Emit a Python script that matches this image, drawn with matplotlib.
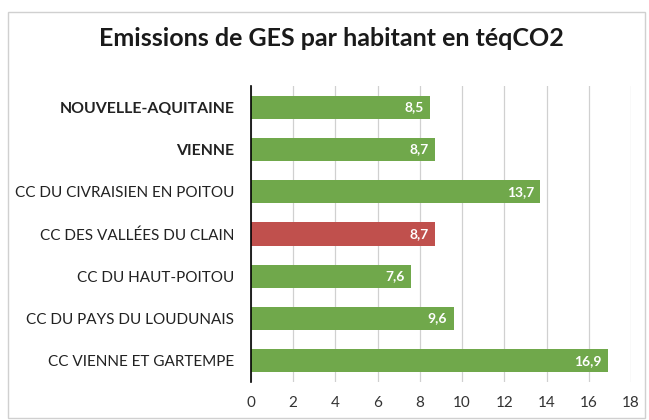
import matplotlib
matplotlib.use('Agg')
import matplotlib.pyplot as plt
from matplotlib.patches import Rectangle

# Emissions de GES par habitant (teqCO2)
territoires = ['NOUVELLE-AQUITAINE', 'VIENNE', 'CC DU CIVRAISIEN EN POITOU',
               'CC DES VALLÉES DU CLAIN', 'CC DU HAUT-POITOU',
               'CC DU PAYS DU LOUDUNAIS', 'CC VIENNE ET GARTEMPE']
emissions = [8.5, 8.7, 13.7, 8.7, 7.6, 9.6, 16.9]
labels = ['8,5', '8,7', '13,7', '8,7', '7,6', '9,6', '16,9']
xticks = [0, 2, 4, 6, 8, 10, 12, 14, 16, 18]

green = '#70a84b'
red = '#c0504d'
colors = [red if t == 'CC DES VALLÉES DU CLAIN' else green for t in territoires]

plt.rcParams['font.family'] = ['Lato', 'DejaVu Sans']

fig = plt.figure(figsize=(6.49, 4.2), dpi=100)
ax = fig.add_axes([251 / 649, 1 - 382 / 420, 380 / 649, 296 / 420])

# chart border
fig.patches.append(Rectangle((8 / 649, 0.005), 637 / 649, 1 - 12 / 420 - 0.005,
                             transform=fig.transFigure, fill=False,
                             edgecolor='#d0d0d0', lw=1))

y = list(range(len(territoires)))
ax.barh(y, emissions, height=0.55, color=colors, zorder=3)
for yi, v, lab in zip(y, emissions, labels):
    ax.text(v - 0.3, yi, lab, ha='right', va='center', color='white',
            fontsize=10, fontweight='bold', zorder=4)

ax.set_xlim(0, 18)
ax.set_ylim(len(territoires) - 0.5, -0.5)
ax.set_xticks(xticks)
ax.set_xticklabels([str(t) for t in xticks], fontsize=11, color='#333333')
ax.set_yticks(y)
ax.set_yticklabels(territoires, fontsize=11, color='#222222')
for i, tl in enumerate(ax.get_yticklabels()):
    if i < 2:
        tl.set_fontweight('bold')
        tl.set_fontsize(11.4)
ax.tick_params(axis='y', length=0, pad=12)
ax.tick_params(axis='x', length=0, pad=10)
ax.grid(axis='x', color='#d0d0d0', lw=0.9, zorder=0)
for s in ['top', 'right', 'bottom']:
    ax.spines[s].set_visible(False)
ax.spines['left'].set_color('black')
ax.spines['left'].set_linewidth(1.2)
ax.spines['left'].set_zorder(5)

fig.text(331 / 649, 1 - 38 / 420, 'Emissions de GES par habitant en téqCO2',
         ha='center', va='center', fontsize=18, fontweight='bold', color='#1a1a1a')

fig.savefig('out.png', dpi=100)
